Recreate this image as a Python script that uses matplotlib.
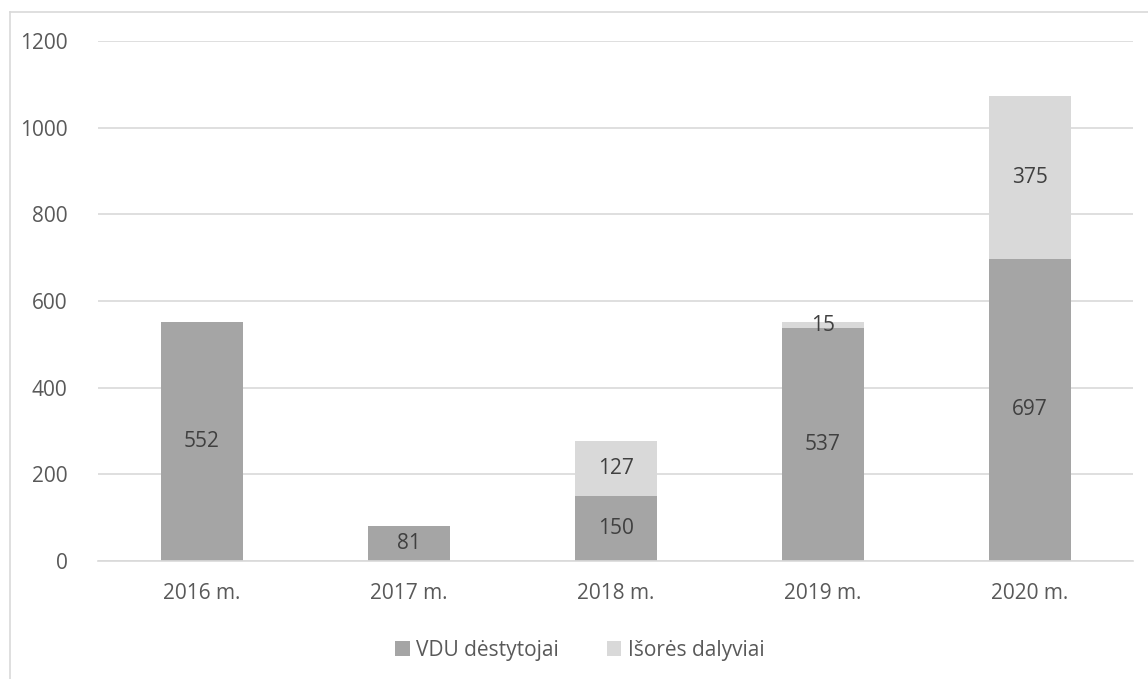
import matplotlib.pyplot as plt
import numpy as np
from matplotlib.lines import Line2D

years = ["2016 m.", "2017 m.", "2018 m.", "2019 m.", "2020 m."]
vdu = [552, 81, 150, 537, 697]
isores = [0, 0, 127, 15, 375]

plt.rcParams['font.family'] = ['Open Sans', 'DejaVu Sans']

fig = plt.figure(figsize=(11.48, 6.79), dpi=100)
ax = fig.add_axes([0.0855, 0.1738, 0.9017, 0.7658])

x = np.arange(len(years))
dark = "#A5A5A5"
light = "#D9D9D9"
ax.bar(x, vdu, width=0.396, color=dark, label="VDU dėstytojai", zorder=2)
ax.bar(x, isores, width=0.396, bottom=vdu, color=light, label="Išorės dalyviai", zorder=2)

for i in range(len(years)):
    ax.text(x[i], vdu[i] / 2, str(vdu[i]), ha="center", va="center", fontsize=15, color="#404040", zorder=3)
    if isores[i] > 0:
        ax.text(x[i], vdu[i] + isores[i] / 2, str(isores[i]), ha="center", va="center", fontsize=15, color="#404040", zorder=3)

ax.set_xlim(-0.5, 4.5)
ax.set_ylim(0, 1200)
ax.set_yticks(range(0, 1201, 200))
ax.set_xticks(x)
ax.set_xticklabels(years)
ax.yaxis.grid(True, color="#D9D9D9", linewidth=1.2, zorder=0)
ax.tick_params(axis="both", length=0, labelsize=15, labelcolor="#595959")
ax.tick_params(axis="y", pad=22)
ax.tick_params(axis="x", pad=16)
for s in ["top", "right", "left"]:
    ax.spines[s].set_visible(False)
ax.spines["bottom"].set_color("#D9D9D9")
ax.spines["bottom"].set_linewidth(1.2)

leg = fig.legend(loc="center", bbox_to_anchor=(0.505, 0.042), ncol=2, frameon=False,
                 fontsize=15, handlelength=0.7, handleheight=0.7, handletextpad=0.3, columnspacing=2.3)
for t in leg.get_texts():
    t.set_color("#595959")

# chart border (left and top visible)
fig.add_artist(Line2D([0.0085, 0.0085], [0.0, 0.982], color="#D9D9D9", lw=1.2, transform=fig.transFigure))
fig.add_artist(Line2D([0.0085, 1.0], [0.982, 0.982], color="#D9D9D9", lw=1.2, transform=fig.transFigure))

fig.savefig("out.png", dpi=100)
